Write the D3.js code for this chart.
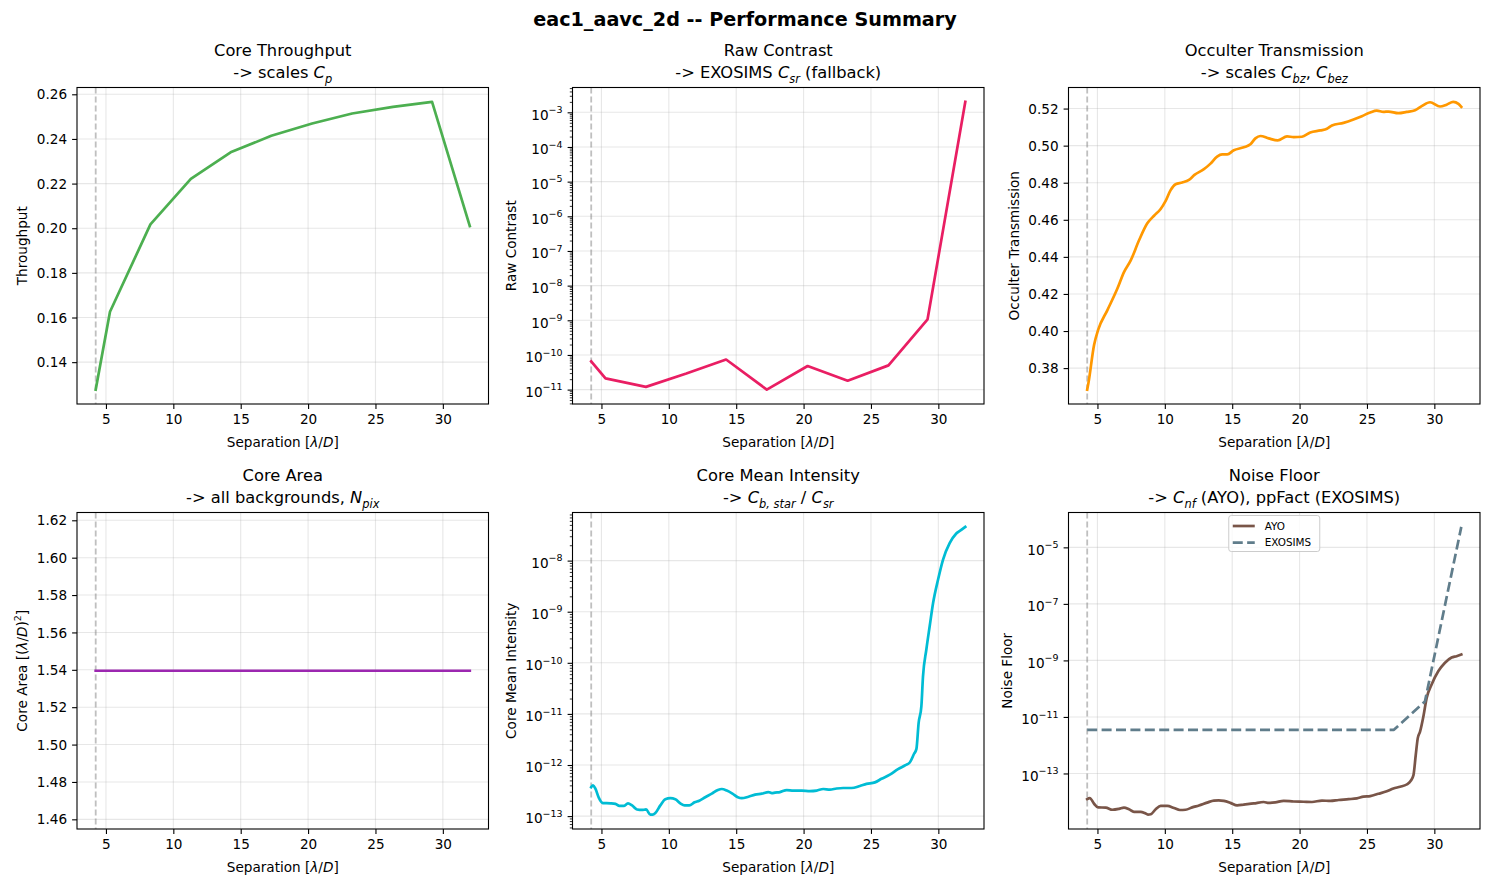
<!DOCTYPE html>
<html>
<head>
<meta charset="utf-8">
<script src="https://cdn.jsdelivr.net/npm/d3@7"></script>
<style>
  body { margin: 0; background: #fff; }
  text { font-family: "DejaVu Sans", sans-serif; fill: #000; }
</style>
</head>
<body>
<svg id="chart" width="1490" height="886"></svg>
<script>
// ---- data ----
var iwa = 4.24;
var sepCoarse = [4.24, 5.3, 8.3, 11.3, 14.25, 17.27, 20.3, 23.27, 26.3, 29.2, 32.0];
var throughput = [0.1277, 0.1626, 0.2017, 0.2221, 0.234, 0.2414, 0.2469, 0.2514, 0.2544, 0.2566, 0.2010];
var rawContrast = [6.5e-11, 2.1e-11, 1.2e-11, 2.9e-11, 7.4e-11, 1.0e-11, 4.8e-11, 1.8e-11, 5.0e-11, 1.07e-9, 2.0e-3];
var coreArea = [1.5395, 1.5395, 1.5395, 1.5395, 1.5395, 1.5395, 1.5395, 1.5395, 1.5395, 1.5395, 1.5395];

var sepOcc = [4.24, 4.33, 4.75, 5.05, 5.74, 6.48, 6.97, 7.47, 8.08, 8.70, 9.2, 9.69, 10.06, 10.43, 10.8,
  11.29, 11.79, 12.2, 12.9, 13.39, 13.88, 14.25, 14.63, 15.12, 15.86, 16.35, 16.72, 17.09, 17.71, 18.38,
  19.07, 19.56, 20.18, 20.79, 21.54, 22.03, 22.4, 23.26, 24.0, 24.62, 25.24, 25.73, 26.22, 26.6, 27.33,
  27.95, 28.57, 29.06, 29.68, 30.42, 30.91, 31.4, 31.79, 32.0];
var occTrans = [0.3684, 0.3719, 0.3925, 0.4006, 0.4113, 0.4229, 0.4318, 0.4381, 0.4488, 0.4581, 0.4622, 0.4658, 0.4702, 0.4760, 0.4792,
  0.4801, 0.4815, 0.4842, 0.4873, 0.4903, 0.4941, 0.4953, 0.4953, 0.4975, 0.4991, 0.5007, 0.5039, 0.5052, 0.5039, 0.5028,
  0.5050, 0.5046, 0.5048, 0.5071, 0.5082, 0.5091, 0.5109, 0.5123, 0.5141, 0.5159, 0.5179, 0.5189, 0.5182, 0.5184, 0.5175,
  0.5182, 0.5191, 0.5213, 0.5234, 0.5211, 0.5221, 0.5236, 0.5225, 0.5209];

var sepCmi = [4.24, 4.38, 4.56, 4.8, 5.1, 5.67, 6.04, 6.33, 6.65, 6.97, 7.27, 7.64, 8.01, 8.31, 8.63, 8.8, 9.0,
  9.37, 9.74, 10.11, 10.48, 10.85, 11.17, 11.52, 11.91, 12.26, 12.7, 13.19, 13.64, 13.93, 14.3, 14.72, 15.12,
  15.41, 15.91, 16.4, 16.9, 17.39, 17.64, 17.88, 18.25, 18.75, 19.24, 19.86, 20.47, 20.97, 21.46, 21.95, 22.45,
  22.94, 23.56, 24.18, 24.67, 25.29, 25.78, 26.4, 27.01, 27.51, 27.88, 28.2, 28.37, 28.54, 28.74, 28.86, 29.11,
  29.36, 29.61, 29.98, 30.35, 30.84, 31.33, 31.7, 32.0];
var cmi = [3.7e-13, 4.0e-13, 3.4e-13, 2.3e-13, 1.8e-13, 1.78e-13, 1.74e-13, 1.58e-13, 1.58e-13, 1.78e-13, 1.62e-13, 1.35e-13, 1.32e-13, 1.35e-13, 1.07e-13, 1.07e-13, 1.15e-13,
  1.62e-13, 2.14e-13, 2.24e-13, 2.14e-13, 1.78e-13, 1.62e-13, 1.62e-13, 1.86e-13, 2.0e-13, 2.34e-13, 2.75e-13, 3.24e-13, 3.39e-13, 3.16e-13, 2.75e-13, 2.34e-13,
  2.24e-13, 2.4e-13, 2.63e-13, 2.75e-13, 2.95e-13, 2.82e-13, 2.88e-13, 2.95e-13, 3.24e-13, 3.16e-13, 3.16e-13, 3.09e-13, 3.16e-13, 3.39e-13, 3.31e-13, 3.47e-13,
  3.55e-13, 3.55e-13, 3.89e-13, 4.27e-13, 4.57e-13, 5.37e-13, 6.46e-13, 8.32e-13, 9.77e-13, 1.12e-12, 1.66e-12, 2.04e-12, 6.76e-12, 1.41e-11, 5.37e-11, 1.82e-10,
  5.25e-10, 1.48e-9, 4.27e-9, 1.05e-8, 2.19e-8, 3.39e-8, 3.98e-8, 4.57e-8];

var sepAyo = [4.24, 4.43, 4.75, 5.05, 5.62, 6.11, 6.6, 6.97, 7.34, 7.71, 8.21, 8.5, 8.75, 8.95, 9.32,
  9.69, 10.18, 10.68, 11.12, 11.54, 12.03, 12.53, 13.14, 13.64, 14.0, 14.38, 14.87, 15.37, 15.86, 16.6,
  17.34, 17.71, 18.2, 18.82, 19.56, 20.3, 20.92, 21.66, 22.28, 22.9, 23.64, 24.25, 24.74, 25.24, 25.85,
  26.47, 26.96, 27.46, 27.95, 28.25, 28.45, 28.62, 28.77, 28.94, 29.19, 29.43, 29.8, 30.3, 30.79, 31.28, 31.65, 32.0];
var nfAyo = [1.23e-14, 1.35e-14, 8.5e-15, 6.3e-15, 6.2e-15, 5.2e-15, 5.6e-15, 6.2e-15, 5.4e-15, 4.4e-15, 4.4e-15, 4.0e-15, 3.5e-15, 3.6e-15, 5.4e-15,
  7.1e-15, 7.1e-15, 6.0e-15, 5.1e-15, 5.2e-15, 6.3e-15, 7.4e-15, 9.3e-15, 1.10e-14, 1.12e-14, 1.07e-14, 9.1e-15, 7.4e-15, 7.9e-15, 8.7e-15,
  9.8e-15, 9.1e-15, 9.5e-15, 1.07e-14, 1.02e-14, 1.0e-14, 9.8e-15, 1.10e-14, 1.07e-14, 1.15e-14, 1.23e-14, 1.32e-14, 1.51e-14, 1.58e-14, 1.91e-14,
  2.34e-14, 2.95e-14, 3.39e-14, 4.07e-14, 5.5e-14, 8.7e-14, 4.5e-13, 1.78e-12, 3.0e-12, 1.05e-11, 4.7e-11, 1.41e-10, 4.2e-10, 8.3e-10, 1.26e-9, 1.41e-9, 1.62e-9];

var sepExo = [4.24, 27.0, 29.3, 32.0];
var nfExo = [3.5e-12, 3.5e-12, 3.5e-11, 5.3e-5];

// ticks
var xTicks = [5, 10, 15, 20, 25, 30];
var throughputTicks = [0.14, 0.16, 0.18, 0.20, 0.22, 0.24, 0.26];
var occTicks = [0.38, 0.40, 0.42, 0.44, 0.46, 0.48, 0.50, 0.52];
var areaTicks = [1.46, 1.48, 1.50, 1.52, 1.54, 1.56, 1.58, 1.60, 1.62];
var rawExp = [-11, -10, -9, -8, -7, -6, -5, -4, -3];
var cmiExp = [-13, -12, -11, -10, -9, -8];
var nfExp = [-13, -11, -9, -7, -5];

// ---- layout ----
var svg = d3.select("#chart");
svg.append("rect").attr("width", 1490).attr("height", 886).attr("fill", "white");

var colLeft = [77, 572.5, 1068.5], rowTop = [87.5, 512.5];
var width = 411.5, height = 316.5;
var fs = 13.6;

// text with italic / sub / sup pieces (poor man's mathtext)
function rich(sel, segs, size) {
  var shift = 0;
  segs.forEach(function(s) {
    if (typeof s === "string") s = { t: s };
    var target = s.sub ? size * 0.28 : (s.sup ? -size * 0.42 : 0);
    var ts = sel.append("tspan").text(s.t).attr("dy", target - shift);
    shift = target;
    if (s.i) ts.attr("font-style", "italic");
    if (s.sub || s.sup) ts.attr("font-size", size * 0.7);
  });
}

function padLin(vals) {
  var lo = d3.min(vals), hi = d3.max(vals);
  if (lo === hi) { var e = Math.abs(lo) * 0.05; lo -= e; hi += e; }
  var m = (hi - lo) * 0.05;
  return [lo - m, hi + m];
}
function padLog(vals) {
  var lo = Math.log10(d3.min(vals)), hi = Math.log10(d3.max(vals));
  var m = (hi - lo) * 0.05;
  return [Math.pow(10, lo - m), Math.pow(10, hi + m)];
}

var C = { t: "C", i: 1 };
var sepLabel = ["Separation [", { t: "\u03bb", i: 1 }, "/", { t: "D", i: 1 }, "]"];

var panels = [
  { col: 0, row: 0, title: "Core Throughput", sub: ["-> scales ", C, { t: "p", i: 1, sub: 1 }],
    ylabel: ["Throughput"], log: false, ticks: throughputTicks, fmt: d3.format(".2f"),
    series: [{ x: sepCoarse, y: throughput, color: "#4caf50" }] },
  { col: 1, row: 0, title: "Raw Contrast", sub: ["-> EXOSIMS ", C, { t: "sr", i: 1, sub: 1 }, " (fallback)"],
    ylabel: ["Raw Contrast"], log: true, exps: rawExp, minor: true,
    series: [{ x: sepCoarse, y: rawContrast, color: "#e91e63" }] },
  { col: 2, row: 0, title: "Occulter Transmission", sub: ["-> scales ", C, { t: "bz", i: 1, sub: 1 }, ", ", C, { t: "bez", i: 1, sub: 1 }],
    ylabel: ["Occulter Transmission"], log: false, ticks: occTicks, fmt: d3.format(".2f"),
    series: [{ x: sepOcc, y: occTrans, color: "#ff9800", smooth: true }] },
  { col: 0, row: 1, title: "Core Area", sub: ["-> all backgrounds, ", { t: "N", i: 1 }, { t: "pix", i: 1, sub: 1 }],
    ylabel: ["Core Area [(", { t: "\u03bb", i: 1 }, "/", { t: "D", i: 1 }, ")", { t: "2", sup: 1 }, "]"],
    log: false, ticks: areaTicks, fmt: d3.format(".2f"),
    series: [{ x: sepCoarse, y: coreArea, color: "#9c27b0" }] },
  { col: 1, row: 1, title: "Core Mean Intensity", sub: ["-> ", C, { t: "b, star", i: 1, sub: 1 }, " / ", C, { t: "sr", i: 1, sub: 1 }],
    ylabel: ["Core Mean Intensity"], log: true, exps: cmiExp, minor: true,
    series: [{ x: sepCmi, y: cmi, color: "#00bcd4", smooth: true }] },
  { col: 2, row: 1, title: "Noise Floor", sub: ["-> ", C, { t: "nf", i: 1, sub: 1 }, " (AYO), ppFact (EXOSIMS)"],
    ylabel: ["Noise Floor"], log: true, exps: nfExp, minor: false, legend: true,
    series: [{ x: sepAyo, y: nfAyo, color: "#795548", smooth: true, name: "AYO" },
             { x: sepExo, y: nfExo, color: "#607d8b", dash: "10,4.4", name: "EXOSIMS" }] }
];

// suptitle
svg.append("text")
  .attr("x", 745).attr("y", 26)
  .attr("text-anchor", "middle")
  .style("font-size", "19.2px").style("font-weight", "bold")
  .text("eac1_aavc_2d -- Performance Summary");

panels.forEach(function(p) {
  var L = colLeft[p.col], T = rowTop[p.row];
  var g = svg.append("g").attr("transform", "translate(" + L + "," + T + ")");

  var allX = [iwa], allY = [];
  p.series.forEach(function(s) { allX = allX.concat(s.x); allY = allY.concat(s.y); });

  var x = d3.scaleLinear().domain(padLin(allX)).range([0, width]);
  var y = p.log ? d3.scaleLog().domain(padLog(allY)).range([height, 0])
                : d3.scaleLinear().domain(padLin(allY)).range([height, 0]);

  var yMajor = p.log ? p.exps.map(function(e) { return Math.pow(10, e); }) : p.ticks;

  // grid
  g.append("g").selectAll("line").data(xTicks).enter().append("line")
    .attr("x1", function(d) { return x(d); }).attr("x2", function(d) { return x(d); })
    .attr("y1", 0).attr("y2", height)
    .attr("stroke", "#b0b0b0").attr("stroke-opacity", 0.3).attr("stroke-width", 1.1);
  g.append("g").selectAll("line").data(yMajor).enter().append("line")
    .attr("y1", function(d) { return y(d); }).attr("y2", function(d) { return y(d); })
    .attr("x1", 0).attr("x2", width)
    .attr("stroke", "#b0b0b0").attr("stroke-opacity", 0.3).attr("stroke-width", 1.1);

  // IWA marker
  g.append("line")
    .attr("x1", x(iwa)).attr("x2", x(iwa)).attr("y1", 0).attr("y2", height)
    .attr("stroke", "#808080").attr("stroke-opacity", 0.5)
    .attr("stroke-width", 1.8).attr("stroke-dasharray", "6,3");

  // series
  p.series.forEach(function(s) {
    var line = d3.line()
      .x(function(d, i) { return x(s.x[i]); })
      .y(function(d) { return y(d); })
      .curve(s.smooth ? d3.curveMonotoneX : d3.curveLinear);
    g.append("path")
      .attr("d", line(s.y))
      .attr("fill", "none")
      .attr("stroke", s.color)
      .attr("stroke-width", 2.7)
      .attr("stroke-linejoin", "round")
      .attr("stroke-linecap", s.dash ? "butt" : "square")
      .attr("stroke-dasharray", s.dash || null);
  });

  // frame
  g.append("rect").attr("width", width).attr("height", height)
    .attr("fill", "none").attr("stroke", "black").attr("stroke-width", 1.1);

  // x axis
  var gx = g.append("g").attr("transform", "translate(0," + height + ")")
    .call(d3.axisBottom(x).tickValues(xTicks).tickSize(4.9).tickSizeOuter(0).tickPadding(5));
  gx.select(".domain").remove();
  gx.selectAll("line").attr("stroke-width", 1.1);
  gx.selectAll("text").style("font-size", fs + "px").attr("font-family", null);

  // y axis
  var yAxis = d3.axisLeft(y).tickValues(yMajor).tickSize(4.9).tickSizeOuter(0).tickPadding(5);
  if (!p.log) yAxis.tickFormat(p.fmt);
  else yAxis.tickFormat("");
  var gy = g.append("g").call(yAxis);
  gy.select(".domain").remove();
  gy.selectAll("line").attr("stroke-width", 1.1);
  gy.selectAll("text").style("font-size", fs + "px");
  if (p.log) {
    gy.selectAll(".tick text").each(function(d) {
      var t = d3.select(this).attr("dy", "0.5em");
      var e = Math.round(Math.log10(d));
      t.append("tspan").text("10");
      t.append("tspan").attr("dy", -6.6).style("font-size", "9.5px").text("\u2212" + Math.abs(e));
    });
  } else {
    gy.selectAll(".tick text").attr("dy", "0.34em");
  }

  if (p.log && p.minor) {
    var lo = Math.floor(Math.log10(y.domain()[0])), hi = Math.ceil(Math.log10(y.domain()[1]));
    var minors = [];
    d3.range(lo, hi + 1).forEach(function(e) {
      d3.range(2, 10).forEach(function(k) {
        var v = k * Math.pow(10, e);
        if (v >= y.domain()[0] && v <= y.domain()[1]) minors.push(v);
      });
    });
    var gm = g.append("g").call(d3.axisLeft(y).tickValues(minors).tickSize(2.7).tickSizeOuter(0).tickFormat(""));
    gm.select(".domain").remove();
    gm.selectAll("line").attr("stroke-width", 0.8);
  }

  // axis labels
  var xl = g.append("text")
    .attr("x", width / 2).attr("y", height + 42.5)
    .attr("text-anchor", "middle").style("font-size", fs + "px");
  rich(xl, sepLabel, fs);

  var bb = gy.node().getBBox();
  var lx = bb.x - 6.5 - 3.2;
  var yl = g.append("text")
    .attr("transform", "translate(" + lx + "," + (height / 2) + ") rotate(-90)")
    .attr("text-anchor", "middle").style("font-size", fs + "px");
  rich(yl, p.ylabel, fs);

  // titles
  g.append("text")
    .attr("x", width / 2).attr("y", -31.5)
    .attr("text-anchor", "middle").style("font-size", "16.3px")
    .text(p.title);
  var st = g.append("text")
    .attr("x", width / 2).attr("y", -9.5)
    .attr("text-anchor", "middle").style("font-size", "16.3px");
  rich(st, p.sub, 16.3);

  // legend
  if (p.legend) {
    var lw = 91, lh = 36;
    var lg = g.append("g").attr("transform", "translate(" + (width / 2 - lw / 2) + ",3)");
    lg.append("rect").attr("width", lw).attr("height", lh).attr("rx", 2.5)
      .attr("fill", "white").attr("fill-opacity", 0.8)
      .attr("stroke", "#cccccc").attr("stroke-width", 1);
    p.series.forEach(function(s, i) {
      var yy = 10.5 + i * 16.6;
      lg.append("line").attr("x1", 4).attr("x2", 26).attr("y1", yy).attr("y2", yy)
        .attr("stroke", s.color).attr("stroke-width", 2.7)
        .attr("stroke-dasharray", s.dash || null);
      lg.append("text").attr("x", 36).attr("y", yy).attr("dy", "0.36em")
        .style("font-size", "10.4px").text(s.name);
    });
  }
});
</script>
</body>
</html>
